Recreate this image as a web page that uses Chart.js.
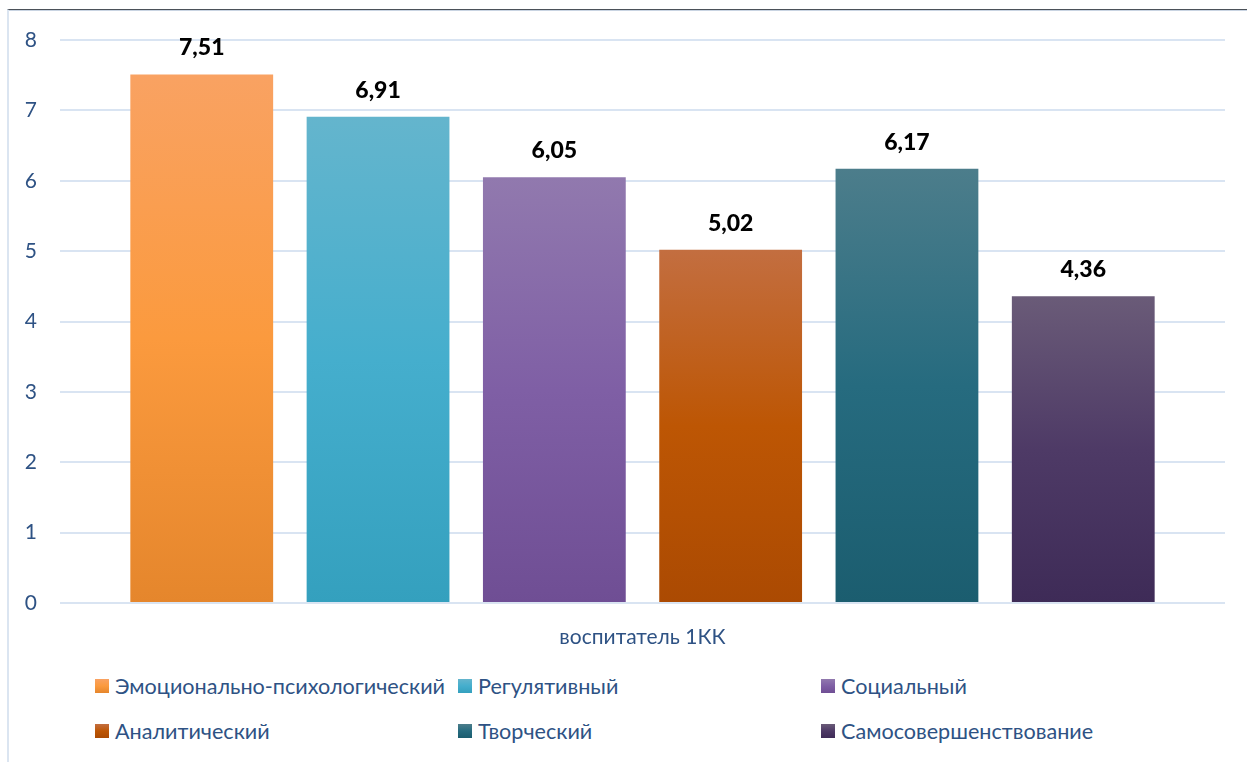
<!DOCTYPE html>
<html>
<head>
<meta charset="utf-8">
<script src="https://cdn.jsdelivr.net/npm/chart.js@4"></script>
<style>
  body { margin: 0; background: #fff; }
  #wrap { position: relative; width: 1247px; height: 762px; overflow: hidden; font-family: Lato, "Noto Sans", sans-serif; }
  #frame { position: absolute; left: 7px; top: 9px; right: 0; bottom: 0; border-top: 1px solid #4b5159; border-left: 2px solid #dbe5f1; box-shadow: inset 0 1px 0 #c9d4e2; }
  #myChart { position: absolute; left: 0; top: 0; }
  #legend { position: absolute; left: 95px; top: 673px; display: grid; grid-template-columns: repeat(3, 363px); row-gap: 19px; color: #2e5284; font-size: 21.6px; }
  .item { display: flex; align-items: center; height: 26px; white-space: nowrap; }
  .box { width: 14px; height: 14px; margin-right: 6px; flex: none; }
</style>
</head>
<body>
<div id="wrap">
  <div id="frame"></div>
  <canvas id="myChart" width="1247" height="665"></canvas>
  <div id="legend"></div>
</div>
<script>
// Chart data
const categories = ["воспитатель 1КК"];
const seriesNames = [
  "Эмоционально-психологический",
  "Регулятивный",
  "Социальный",
  "Аналитический",
  "Творческий",
  "Самосовершенствование",
];
const seriesValues = [7.51, 6.91, 6.05, 5.02, 6.17, 4.36];
const yTickValues = [0, 1, 2, 3, 4, 5, 6, 7, 8];

// top / middle / bottom colours of each bar gradient
const palette = [
  ["#f9a262", "#fb9a3e", "#e5862c"],
  ["#64b5cd", "#45aecd", "#34a0be"],
  ["#9179ae", "#7f5fa5", "#6f4e94"],
  ["#c36e40", "#bd5604", "#ab4a02"],
  ["#4c7d8b", "#266b7f", "#1b5d6f"],
  ["#6a5b78", "#4e3a66", "#3e2b57"],
];

const textBlue = "#2e5284";
const ctx = document.getElementById("myChart");

function formatValue(v) {
  return v.toFixed(2).replace(".", ",");
}

function barGradient(context, colors) {
  const chart = context.chart;
  if (!chart.chartArea) return colors[1];
  const yScale = chart.scales.y;
  const top = yScale.getPixelForValue(context.raw);
  const bottom = yScale.getPixelForValue(0);
  const g = chart.ctx.createLinearGradient(0, top, 0, bottom);
  g.addColorStop(0, colors[0]);
  g.addColorStop(0.5, colors[1]);
  g.addColorStop(1, colors[2]);
  return g;
}

// Value labels above the bars
const valueLabels = {
  id: "valueLabels",
  afterDatasetsDraw(chart) {
    const c = chart.ctx;
    c.save();
    c.font = "900 23px Lato, 'Noto Sans', sans-serif";
    c.fillStyle = "#000";
    c.textAlign = "center";
    c.textBaseline = "alphabetic";
    chart.data.datasets.forEach((ds, i) => {
      chart.getDatasetMeta(i).data.forEach((bar, j) => {
        c.fillText(formatValue(ds.data[j]), bar.x, bar.y - 19);
      });
    });
    c.restore();
  },
};

const myChart = new Chart(ctx, {
  type: "bar",
  data: {
    labels: categories,
    datasets: seriesNames.map((name, i) => ({
      label: name,
      data: [seriesValues[i]],
      backgroundColor: (context) => barGradient(context, palette[i]),
      borderWidth: 0,
      categoryPercentage: 0.908,
      barPercentage: 0.81,
    })),
  },
  options: {
    responsive: false,
    animation: false,
    layout: { padding: { top: 40, right: 22, left: 0, bottom: 0 } },
    plugins: {
      legend: { display: false },
      tooltip: { enabled: false },
    },
    scales: {
      x: {
        grid: { display: false },
        border: { display: false },
        ticks: { color: textBlue, font: { family: "Lato, 'Noto Sans', sans-serif", size: 21 }, padding: 14 },
        afterFit(scale) { scale.height = 62; },
      },
      y: {
        min: 0,
        max: 8,
        afterBuildTicks(scale) { scale.ticks = yTickValues.map((v) => ({ value: v })); },
        grid: { color: "#d9e4f2", lineWidth: 2, drawTicks: false },
        border: { display: false },
        ticks: { color: textBlue, font: { family: "Lato, 'Noto Sans', sans-serif", size: 21 }, padding: 23 },
        afterFit(scale) { scale.width = 60; },
      },
    },
  },
  plugins: [valueLabels],
});

// Legend in three columns under the chart
const legend = document.getElementById("legend");
seriesNames.forEach((name, i) => {
  const item = document.createElement("div");
  item.className = "item";
  const box = document.createElement("span");
  box.className = "box";
  box.style.background = `linear-gradient(${palette[i][0]}, ${palette[i][1]}, ${palette[i][2]})`;
  const label = document.createElement("span");
  label.textContent = name;
  item.appendChild(box);
  item.appendChild(label);
  legend.appendChild(item);
});
</script>
</body>
</html>
